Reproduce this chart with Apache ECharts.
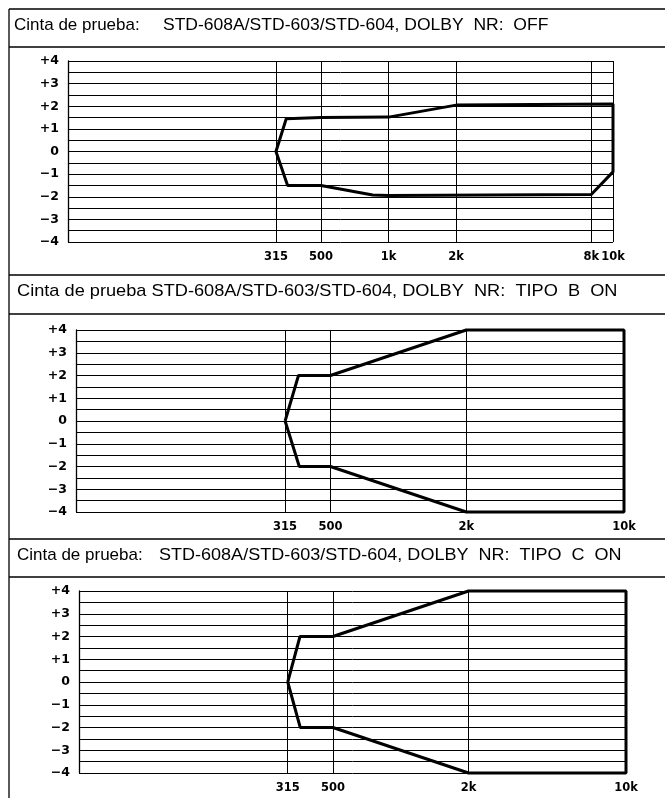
<!DOCTYPE html>
<html><head><meta charset="utf-8">
<script src="https://cdn.jsdelivr.net/npm/echarts@6/dist/echarts.min.js"></script>
<style>html,body{margin:0;padding:0;background:#fff}#c{width:665px;height:798px}</style>
</head><body><div id="c"></div>
<script>
// ---- data ----
const headerPrefix = ['Cinta de prueba:', 'Cinta de prueba STD-608A/STD-603/STD-604, DOLBY  NR:  TIPO  B  ON', 'Cinta de prueba:'];
const headerMain = ['STD-608A/STD-603/STD-604, DOLBY  NR:  OFF', '', 'STD-608A/STD-603/STD-604, DOLBY  NR:  TIPO  C  ON'];

const offFreq  = [315, 350, 500, 1000, 2000, 10000, 10000, 8000, 1000, 850, 500, 355, 315];
const offLevel = [0, 1.45, 1.5, 1.52, 2.05, 2.1, -0.9, -1.9, -1.95, -1.92, -1.5, -1.5, 0];

const typeBFreq  = [315, 361, 500, 2000, 10000, 10000, 2000, 500, 364, 315];
const typeBLevel = [0, 2, 2, 4, 4, -4, -4, -2, -2, 0];

const typeCFreq  = [315, 357, 500, 2000, 10000, 10000, 2000, 500, 358, 315];
const typeCLevel = [0, 2, 2, 4, 4, -4, -4, -2, -2, 0];

const freqLines1 = [315, 500, 1000, 2000, 8000, 10000];
const freqLabels1 = ['315', '500', '1k', '2k', '8k', '10k'];
const freqLines2 = [315, 500, 2000, 10000];
const freqLabels2 = ['315', '500', '2k', '10k'];

const yTickValues = [4, 3, 2, 1, 0, -1, -2, -3, -4];
const yTickLabels = ['+4', '+3', '+2', '+1', '0', '\u22121', '\u22122', '\u22123', '\u22124'];

// ---- layout ----
const FONT = '"Liberation Sans", Arial, Helvetica, sans-serif';
const LFONT = '"DejaVu Sans", "Liberation Sans", sans-serif';
const panels = [
  { grid: { left: 68, top: 61, width: 545, height: 181 }, f: offFreq, l: offLevel, vf: freqLines1, vl: freqLabels1 },
  { grid: { left: 76, top: 330, width: 548, height: 182 }, f: typeBFreq, l: typeBLevel, vf: freqLines2, vl: freqLabels2 },
  { grid: { left: 79, top: 591, width: 547, height: 182 }, f: typeCFreq, l: typeCLevel, vf: freqLines2, vl: freqLabels2 }
];

const yLabelMap = {};
yTickValues.forEach((v, i) => { yLabelMap[v] = yTickLabels[i]; });

const grids = [], xAxes = [], yAxes = [], series = [];
panels.forEach((p, k) => {
  grids.push(Object.assign({ containLabel: false }, p.grid));
  xAxes.push({
    type: 'log', logBase: 10, gridIndex: k, min: 37.3, max: 10000,
    axisLine: { show: false }, axisTick: { show: false }, axisLabel: { show: false }, splitLine: { show: false }
  });
  yAxes.push({
    type: 'value', gridIndex: k, min: -4, max: 4, interval: 0.5,
    axisLine: { show: true, lineStyle: { color: '#000', width: 1.3 } },
    axisTick: { show: false },
    axisLabel: {
      margin: 9, color: '#000', fontFamily: LFONT, fontWeight: 'bold', fontSize: 12.5,
      formatter: v => (yLabelMap[v] !== undefined ? yLabelMap[v] : '')
    },
    splitLine: { show: true, lineStyle: { color: '#000', width: 1 } }
  });
  series.push({
    type: 'line', xAxisIndex: k, yAxisIndex: k, clip: false,
    data: p.f.map((f, i) => [f, p.l[i]]),
    symbol: 'none', lineStyle: { color: '#000', width: 3 }, z: 5,
    markLine: {
      silent: true, symbol: ['none', 'none'], animation: false,
      lineStyle: { color: '#000', width: 1, type: 'solid' },
      label: {
        show: true, position: 'start', distance: 9, formatter: '{b}',
        color: '#000', fontFamily: LFONT, fontWeight: 'bold', fontSize: 11.5
      },
      emphasis: { disabled: true },
      data: p.vf.map((f, i) => [{ name: p.vl[i], coord: [f, -4] }, { coord: [f, 4] }])
    }
  });
});

const ln = (x1, y1, x2, y2, w) => ({ type: 'line', shape: { x1, y1, x2, y2 }, style: { stroke: '#000', lineWidth: w || 1.3 }, silent: true });
const tx = (x, y, t, sx) => ({ type: 'text', x, y, scaleX: sx || 1, style: { text: t, fill: '#000', font: '17px ' + FONT, textVerticalAlign: 'middle' }, silent: true });

const graphic = [
  ln(9, 9, 9, 798), ln(9, 9, 665, 9), ln(9, 47, 665, 47),
  ln(9, 275, 665, 275), ln(9, 314, 665, 314),
  ln(9, 539, 665, 539), ln(9, 577, 665, 577),
  tx(14, 25, headerPrefix[0]), tx(163, 25, headerMain[0], 1.03),
  tx(17, 291, headerPrefix[1], 1.07),
  tx(17, 555, headerPrefix[2]), tx(159, 555, headerMain[2], 1.06)
];

const chart = echarts.init(document.getElementById('c'), null, { renderer: 'canvas' });
chart.setOption({
  animation: false, backgroundColor: '#fff',
  grid: grids, xAxis: xAxes, yAxis: yAxes, series, graphic
});
</script></body></html>
